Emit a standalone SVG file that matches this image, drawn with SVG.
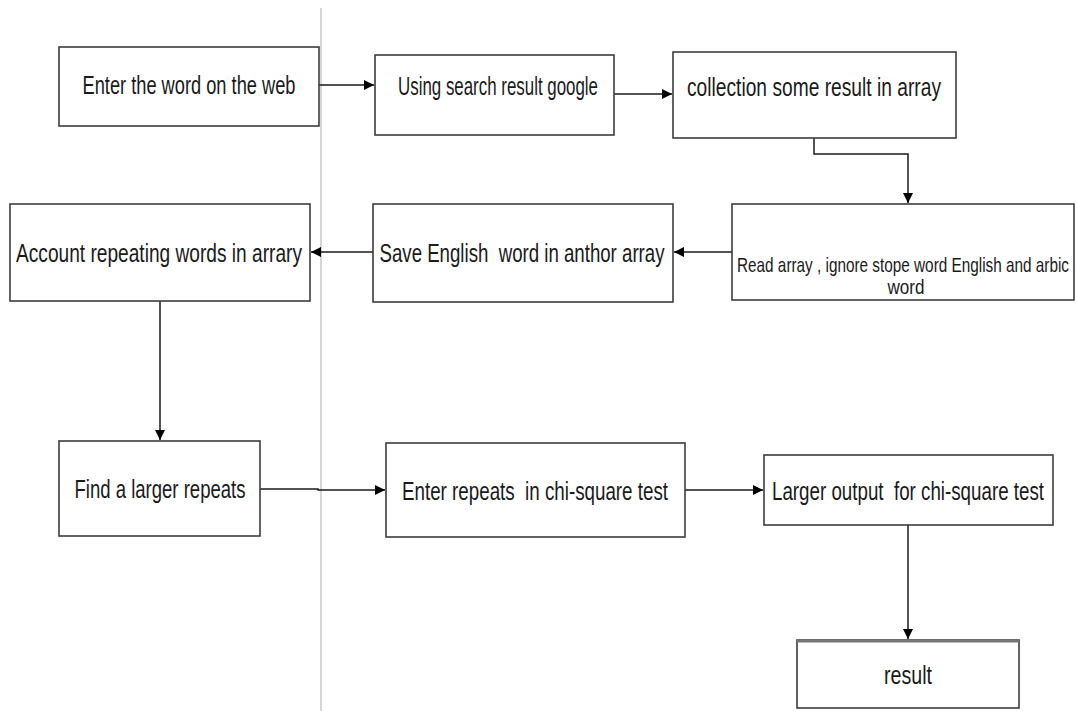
<svg xmlns="http://www.w3.org/2000/svg" width="1077" height="711" viewBox="0 0 1077 711">
<style>
.box{fill:#ffffff;stroke:#3c3c3c;stroke-width:1.6}
.t{font-family:"Liberation Sans Narrow","Liberation Sans",Arial,sans-serif;font-size:25px;fill:#1a1a1a;text-anchor:middle;dominant-baseline:central}
.s{font-size:21px}
.c{fill:none;stroke:#1a1a1a;stroke-width:1.5}
</style>
<defs>
<marker id="ah" viewBox="0 0 10 10" refX="10" refY="5" markerWidth="12" markerHeight="10" markerUnits="userSpaceOnUse" orient="auto">
<path d="M0,0 L10,5 L0,10 z" fill="#000"/>
</marker>
</defs>
<rect width="1077" height="711" fill="#ffffff"/>
<line x1="321" y1="8" x2="321" y2="711" stroke="#c8c8c8" stroke-width="1.5"/>
<g id="connectors">
<line class="c" x1="319" y1="85" x2="374" y2="85" marker-end="url(#ah)"/>
<line class="c" x1="614" y1="94" x2="672" y2="94" marker-end="url(#ah)"/>
<polyline class="c" points="814,138 814,154 908,154 908,203" marker-end="url(#ah)"/>
<line class="c" x1="732" y1="252" x2="674" y2="252" marker-end="url(#ah)"/>
<line class="c" x1="373" y1="252" x2="311" y2="252" marker-end="url(#ah)"/>
<line class="c" x1="160" y1="301" x2="160" y2="440" marker-end="url(#ah)"/>
<polyline class="c" points="260,489 318,489 318,490 385,490" marker-end="url(#ah)"/>
<line class="c" x1="685" y1="490" x2="763" y2="490" marker-end="url(#ah)"/>
<line class="c" x1="908" y1="525" x2="908" y2="639" marker-end="url(#ah)"/>
</g>
<g id="n1"><rect class="box" x="59" y="47" width="260" height="79"/><text class="t" x="189" y="85" textLength="213" lengthAdjust="spacingAndGlyphs">Enter the word on the web</text></g>
<g id="n2"><rect class="box" x="375" y="55" width="239" height="80"/><text class="t" x="498" y="86" textLength="200" lengthAdjust="spacingAndGlyphs">Using search result google</text></g>
<g id="n3"><rect class="box" x="673" y="52" width="283" height="86"/><text class="t" x="814" y="87" textLength="254" lengthAdjust="spacingAndGlyphs">collection some result in array</text></g>
<g id="n4"><rect class="box" x="732" y="204" width="342" height="96"/><text class="t s" x="903" y="264" textLength="332" lengthAdjust="spacingAndGlyphs">Read array , ignore stope word English and arbic</text><text class="t s" x="906" y="286" textLength="37" lengthAdjust="spacingAndGlyphs">word</text></g>
<g id="n5"><rect class="box" x="373" y="204" width="300" height="98"/><text class="t" x="522" y="253" textLength="285" lengthAdjust="spacingAndGlyphs" xml:space="preserve">Save English  word in anthor array</text></g>
<g id="n6"><rect class="box" x="10" y="204" width="300" height="97"/><text class="t" x="159" y="253" textLength="286" lengthAdjust="spacingAndGlyphs">Account repeating words in arrary</text></g>
<g id="n7"><rect class="box" x="59" y="441" width="201" height="95"/><text class="t" x="160" y="489" textLength="171" lengthAdjust="spacingAndGlyphs">Find a larger repeats</text></g>
<g id="n8"><rect class="box" x="386" y="443" width="299" height="94"/><text class="t" x="535" y="491" textLength="266" lengthAdjust="spacingAndGlyphs" xml:space="preserve">Enter repeats  in chi-square test</text></g>
<g id="n9"><rect class="box" x="764" y="455" width="289" height="70"/><text class="t" x="908" y="491" textLength="272" lengthAdjust="spacingAndGlyphs" xml:space="preserve">Larger output  for chi-square test</text></g>
<g id="n10"><rect class="box" x="797" y="640" width="222" height="68"/><line x1="797" y1="641" x2="1019" y2="641" stroke="#777" stroke-width="3"/><text class="t" x="908" y="675" textLength="48" lengthAdjust="spacingAndGlyphs">result</text></g>
</svg>
